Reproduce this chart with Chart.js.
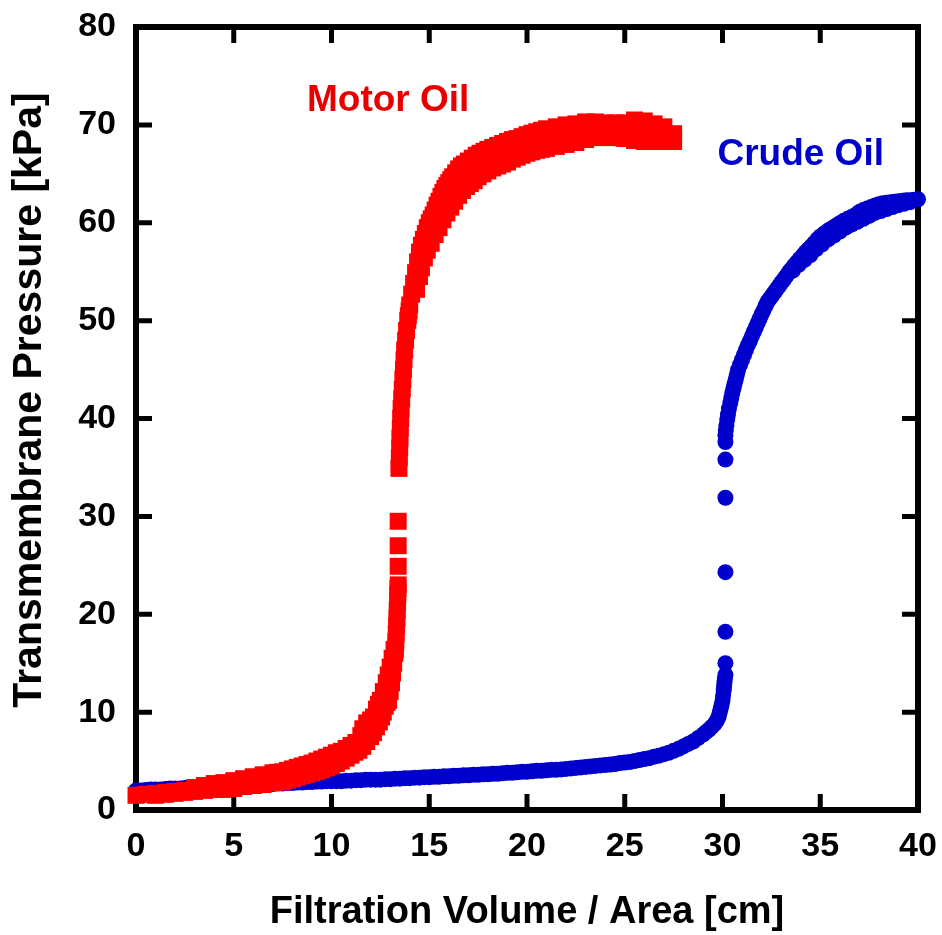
<!DOCTYPE html>
<html>
<head>
<meta charset="utf-8">
<script src="https://cdn.jsdelivr.net/npm/chart.js@4.4.0/dist/chart.umd.min.js"></script>
<style>
  html, body { margin: 0; background: #fff; }
  #wrap { width: 942px; height: 935px; }
</style>
</head>
<body>
<div id="wrap"><canvas id="chart"></canvas></div>
<script>
// Motor oil run: pressure readings are noisy, so the band holds several readings per volume
const motorOilX = [
  // low-pressure stretch, upper readings
  0, 0.5, 1, 1.5, 2, 2.5, 3, 3.5, 4, 4.5, 5, 5.5, 6, 6.5, 7, 7.25, 7.5, 7.75, 8, 8.25, 8.5, 8.75,
  9, 9.25, 9.5, 9.75, 10, 10.25, 10.5, 10.75, 11, 11.25, 11.5,
  // low-pressure stretch, lower readings, into the knee
  1, 1.5, 2, 2.5, 3, 3.5, 4, 4.5, 5, 5.5, 6, 6.5, 7, 7.25, 7.5, 7.75, 8, 8.25, 8.5, 8.75,
  9, 9.25, 9.5, 9.75, 10, 10.25, 10.5, 10.75, 11, 11.2, 11.4, 11.6, 11.8, 12, 12.15, 12.3, 12.45, 12.56, 12.65, 12.75,
  12.85, 12.92, 13, 13.07, 13.12, 13.18, 13.24, 13.27,
  // knee, upper readings
  11.6, 11.8, 12, 12.15, 12.3, 12.4, 12.5, 12.65, 12.8, 12.9, 13, 13.1, 13.2,
  // fast rise
  13.29, 13.31, 13.33, 13.35, 13.36, 13.38, 13.39, 13.4, 13.41,
  13.41, 13.41, 13.41,
  13.45, 13.47, 13.49, 13.5, 13.52, 13.54, 13.56, 13.59, 13.62, 13.65, 13.68, 13.71, 13.74, 13.79, 13.84, 13.9, 13.93, 13.97,
  // plateau, upper readings
  14, 14.1, 14.2, 14.3, 14.4, 14.5, 14.6, 14.7, 14.8, 14.9, 15, 15.1, 15.2, 15.3, 15.4, 15.5, 15.6, 15.7, 15.8, 15.9,
  16, 16.1, 16.2, 16.35, 16.5, 16.65, 16.8, 17, 17.2, 17.4, 17.6, 17.8, 18,
  18.25, 18.5, 18.75, 19, 19.25, 19.5, 19.75, 20, 20.25, 20.5, 20.75, 21,
  21.5, 22, 22.5, 23, 23.5, 24, 24.5, 25, 25.5, 26, 26.5, 27, 27.5,
  // plateau, lower readings
  14.35, 14.5, 14.6, 14.75, 14.9, 15.1, 15.3, 15.5, 15.7, 15.9, 16.1, 16.3, 16.5, 16.7, 16.9, 17.1, 17.3, 17.5,
  17.75, 18, 18.25, 18.5, 18.75, 19, 19.25, 19.5, 19.75, 20, 20.25, 20.5, 20.75, 21,
  21.5, 22, 22.5, 23, 23.5, 24, 24.5, 25, 25.5, 26, 26.5, 27, 27.5,
  // plateau, middle readings
  17, 17.5, 18, 18.5, 19, 19.5, 20, 20.5, 21, 21.5, 22, 22.5, 23, 23.5, 24, 24.5, 25, 25.5, 26, 26.5, 27
];
const motorOilY = [
  1.5, 1.6, 1.7, 1.8, 1.9, 2.0, 2.3, 2.5, 2.7, 2.8, 3.0, 3.2, 3.4, 3.6, 3.8, 3.85, 3.9, 4.05, 4.2, 4.35, 4.5, 4.65,
  4.8, 5.0, 5.2, 5.4, 5.6, 5.85, 6.0, 6.3, 6.6, 6.9, 7.6,

  1.5, 1.6, 1.7, 1.8, 1.9, 2.0, 2.1, 2.1, 2.2, 2.4, 2.5, 2.6, 2.8, 2.85, 2.9, 3.05, 3.2, 3.35, 3.5, 3.65,
  3.8, 3.95, 4.1, 4.3, 4.5, 4.75, 5.0, 5.3, 5.6, 5.9, 6.1, 6.5, 7.0, 7.5, 7.9, 8.5, 9.0, 9.5, 10.0, 10.6,
  11.0, 11.2, 12.1, 13.0, 14.0, 15.0, 16.0, 16.4,

  8.3, 8.9, 9.2, 9.5, 10.3, 10.8, 11.2, 12.1, 13.0, 13.8, 14.6, 15.5, 16.4,

  17.2, 18.0, 18.8, 19.6, 20.4, 21.2, 22.0, 22.6, 23.0,
  24.9, 27.0, 29.5,
  34.9, 36, 37, 38, 39, 40, 41, 42, 43, 44, 45, 46, 47, 48, 49, 50, 50.5, 51,

  51.6, 52.7, 53.8, 54.9, 56.0, 57.0, 57.7, 58.3, 58.9, 59.5, 60.0, 60.4, 60.8, 61.3, 61.8, 62.2, 62.7, 63.1, 63.5, 63.8,
  64.1, 64.4, 64.7, 65.1, 65.5, 65.8, 66.0, 66.3, 66.6, 66.9, 67.1, 67.3, 67.5,
  67.7, 67.9, 68.1, 68.3, 68.5, 68.6, 68.8, 69.0, 69.15, 69.3, 69.45, 69.6,
  69.8, 70.0, 70.1, 70.3, 70.3, 70.2, 70.2, 70.2, 70.5, 70.4, 70.1, 69.8, 69.1,

  53.2, 54.5, 55.4, 56.4, 57.2, 57.9, 58.8, 59.5, 60.3, 61.0, 61.6, 62.2, 62.8, 63.3, 63.7, 64.0, 64.3, 64.7,
  65.0, 65.3, 65.6, 65.8, 66.0, 66.2, 66.5, 66.7, 66.9, 67.1, 67.25, 67.4, 67.5, 67.6,
  67.8, 68.0, 68.2, 68.5, 68.7, 68.7, 68.7, 68.6, 68.4, 68.3, 68.3, 68.3, 68.3,

  65.2, 65.9, 66.4, 66.85, 67.25, 67.65, 68.05, 68.35, 68.6, 68.8, 69.0, 69.15, 69.4, 69.5, 69.45, 69.45, 69.4, 69.45, 69.35, 69.2, 69.05
];

// Crude oil run
const crudeOilX = [
  0, 0.25, 0.5, 0.75, 1, 1.25, 1.5, 1.75, 2, 2.25, 2.5, 2.75, 3, 3.25, 3.5, 3.75, 4, 4.25, 4.5, 4.75,
  5, 5.25, 5.5, 5.75, 6, 6.25, 6.5, 6.75, 7, 7.25, 7.5, 7.75, 8, 8.25, 8.5, 8.75, 9, 9.25, 9.5, 9.75,
  10, 10.25, 10.5, 10.75, 11, 11.25, 11.5, 11.75, 12, 12.25, 12.5, 12.75, 13, 13.25, 13.5, 13.75, 14, 14.25, 14.5, 14.75,
  15, 15.25, 15.5, 15.75, 16, 16.25, 16.5, 16.75, 17, 17.25, 17.5, 17.75, 18, 18.25, 18.5, 18.75, 19, 19.25, 19.5, 19.75,
  20, 20.25, 20.5, 20.75, 21, 21.25, 21.5, 21.75, 22, 22.25, 22.5, 22.75, 23, 23.25, 23.5, 23.75, 24, 24.25, 24.5, 24.75,
  25, 25.25, 25.5, 25.75, 26, 26.25, 26.5, 26.75, 27, 27.25, 27.5, 27.75, 28,
  28.25, 28.5, 28.75, 29, 29.15, 29.3, 29.45, 29.6, 29.7, 29.8, 29.85, 29.9, 29.95, 30, 30.03, 30.06, 30.08, 30.1, 30.12,
  30.15, 30.15, 30.15, 30.15, 30.15, 30.15, 30.15,
  30.15, 30.17, 30.2, 30.24, 30.28, 30.33, 30.4, 30.45, 30.5, 30.55, 30.6, 30.65, 30.7, 30.75, 30.8,
  30.9, 31, 31.1, 31.2, 31.3, 31.4, 31.5, 31.6, 31.7, 31.8, 31.9, 32, 32.1, 32.2, 32.3,
  32.4, 32.5, 32.6, 32.7, 32.8, 32.9, 33, 33.1, 33.2, 33.3, 33.4, 33.5,
  33.65, 33.8, 33.95, 34.1, 34.25, 34.4, 34.55, 34.7, 34.85, 35,
  35.2, 35.4, 35.6, 35.8, 36, 36.2, 36.4, 36.6, 36.8, 37, 37.2, 37.4, 37.6, 37.8, 38,
  38.2, 38.4, 38.6, 38.8, 39, 39.2, 39.4, 39.6, 39.8, 40,
  // lower readings along the flattening part
  33.6, 33.9, 34.2, 34.5, 34.8, 35.1, 35.4, 35.7, 36, 36.3, 36.6, 36.9, 37.2, 37.5, 37.8, 38.1,
  38.4, 38.7, 39, 39.3, 39.6
];
const crudeOilY = [
  2.0, 2.0, 2.05, 2.1, 2.1, 2.1, 2.15, 2.2, 2.2, 2.2, 2.25, 2.3, 2.3, 2.3, 2.35, 2.4, 2.4, 2.4, 2.45, 2.5,
  2.5, 2.5, 2.5, 2.55, 2.55, 2.6, 2.6, 2.65, 2.65, 2.7, 2.7, 2.75, 2.75, 2.8, 2.8, 2.85, 2.85, 2.9, 2.9, 2.95,
  2.95, 2.95, 2.95, 3.0, 3.0, 3.05, 3.05, 3.1, 3.1, 3.1, 3.1, 3.15, 3.15, 3.2, 3.2, 3.25, 3.25, 3.3, 3.3, 3.35,
  3.35, 3.4, 3.4, 3.45, 3.45, 3.5, 3.5, 3.55, 3.55, 3.6, 3.6, 3.65, 3.65, 3.7, 3.7, 3.75, 3.8, 3.8, 3.85, 3.9,
  3.9, 3.95, 4.0, 4.0, 4.05, 4.1, 4.1, 4.15, 4.2, 4.25, 4.3, 4.35, 4.4, 4.45, 4.5, 4.55, 4.6, 4.65, 4.7, 4.8,
  4.85, 4.9, 5.0, 5.1, 5.2, 5.3, 5.45, 5.55, 5.7, 5.85, 6.05, 6.25, 6.5,
  6.75, 7.0, 7.35, 7.7, 7.95, 8.2, 8.5, 8.8, 9.1, 9.5, 9.9, 10.3, 10.7, 11.2, 11.7, 12.2, 12.6, 13.0, 13.4,
  13.8, 15.0, 18.2, 24.3, 31.9, 35.8, 37.6,
  38.3, 38.8, 39.3, 39.9, 40.4, 41.0, 41.6, 42.1, 42.6, 43.0, 43.4, 43.8, 44.2, 44.6, 45.0,
  45.5, 46.0, 46.5, 47.0, 47.5, 47.9, 48.4, 48.85, 49.3, 49.75, 50.2, 50.65, 51.05, 51.5, 51.9,
  52.2, 52.45, 52.75, 53.0, 53.3, 53.55, 53.85, 54.1, 54.4, 54.65, 54.95, 55.2,
  55.6, 55.95, 56.3, 56.65, 57.0, 57.3, 57.6, 57.95, 58.3, 58.6,
  58.9, 59.2, 59.45, 59.7, 59.95, 60.2, 60.4, 60.6, 60.8, 61.1, 61.3, 61.45, 61.6, 61.75, 61.9,
  62.0, 62.05, 62.1, 62.15, 62.2, 62.25, 62.3, 62.3, 62.35, 62.4,

  55.1, 55.7, 56.2, 56.7, 57.3, 57.8, 58.3, 58.7, 59.1, 59.5, 59.8, 60.1, 60.4, 60.7, 61.0, 61.2,
  61.4, 61.6, 61.8, 61.95, 62.1
];

const xTicks = [0, 5, 10, 15, 20, 25, 30, 35, 40];
const yTicks = [0, 10, 20, 30, 40, 50, 60, 70, 80];

const RED = '#ff0000';
const BLUE = '#0000cc';
const FONT = '"Liberation Sans", Arial, sans-serif';

const toPoints = (xs, ys) => xs.map((v, i) => ({ x: v, y: ys[i] }));

// drop the label-overhang padding so the plot box sits exactly where layout puts it
const noPad = s => { s.paddingLeft = s.paddingRight = s.paddingTop = s.paddingBottom = 0; };

// boxed frame with inward ticks on all four sides, series names and y title
const framePlugin = {
  id: 'frame',
  beforeDatasetsDraw(chart) {
    const { ctx, chartArea: a, scales: { x, y } } = chart;
    const len = 16;
    ctx.save();
    ctx.strokeStyle = '#000';
    ctx.lineWidth = 5;
    ctx.beginPath();
    xTicks.forEach(v => {
      const px = x.getPixelForValue(v);
      ctx.moveTo(px, a.bottom); ctx.lineTo(px, a.bottom - len);
      ctx.moveTo(px, a.top); ctx.lineTo(px, a.top + len);
    });
    yTicks.forEach(v => {
      const py = y.getPixelForValue(v);
      ctx.moveTo(a.left, py); ctx.lineTo(a.left + len, py);
      ctx.moveTo(a.right, py); ctx.lineTo(a.right - len, py);
    });
    ctx.stroke();
    ctx.lineWidth = 6;
    ctx.strokeRect(a.left, a.top, a.right - a.left, a.bottom - a.top);
    ctx.restore();
  },
  afterDraw(chart) {
    const { ctx, scales: { x, y } } = chart;
    ctx.save();
    ctx.textAlign = 'center';
    ctx.textBaseline = 'middle';
    ctx.font = 'bold 37px ' + FONT;
    ctx.fillStyle = '#e60000';
    ctx.fillText('Motor Oil', x.getPixelForValue(12.9), y.getPixelForValue(72.5));
    ctx.fillStyle = BLUE;
    ctx.fillText('Crude Oil', x.getPixelForValue(34.0), y.getPixelForValue(66.9));

    ctx.translate(30, 400);
    ctx.rotate(-Math.PI / 2);
    ctx.fillStyle = '#000';
    ctx.font = 'bold 41px ' + FONT;
    ctx.fillText('Transmembrane Pressure [kPa]', 0, 0);
    ctx.restore();
  }
};

new Chart(document.getElementById('chart'), {
  type: 'scatter',
  data: {
    datasets: [
      {
        label: 'Motor Oil',
        data: toPoints(motorOilX, motorOilY),
        pointStyle: 'rect',
        pointRadius: 12,
        pointBorderWidth: 0,
        backgroundColor: RED,
        borderColor: RED,
        clip: false
      },
      {
        label: 'Crude Oil',
        data: toPoints(crudeOilX, crudeOilY),
        pointStyle: 'circle',
        pointRadius: 8,
        pointBorderWidth: 0,
        backgroundColor: BLUE,
        borderColor: BLUE,
        clip: false
      }
    ]
  },
  options: {
    responsive: true,
    maintainAspectRatio: false,
    animation: false,
    events: [],
    layout: { padding: { left: 0, top: 27, right: 24, bottom: 0 } },
    plugins: { legend: { display: false }, tooltip: { enabled: false } },
    scales: {
      x: {
        type: 'linear',
        min: 0,
        max: 40,
        afterFit: s => { s.height = 125; noPad(s); },
        grid: { display: false, drawTicks: false },
        border: { display: false },
        ticks: {
          stepSize: 5,
          padding: 16,
          color: '#000',
          font: { family: FONT, size: 34, weight: 'bold' }
        },
        title: {
          display: true,
          text: 'Filtration Volume / Area [cm]',
          color: '#000',
          padding: { top: 0, bottom: 0 },
          font: { family: FONT, size: 38, weight: 'bold' }
        }
      },
      y: {
        type: 'linear',
        min: 0,
        max: 80,
        afterFit: s => { s.width = 136; noPad(s); },
        grid: { display: false, drawTicks: false },
        border: { display: false },
        ticks: {
          stepSize: 10,
          padding: 20,
          color: '#000',
          font: { family: FONT, size: 34, weight: 'bold' }
        }
      }
    }
  },
  plugins: [framePlugin]
});
</script>
</body>
</html>
